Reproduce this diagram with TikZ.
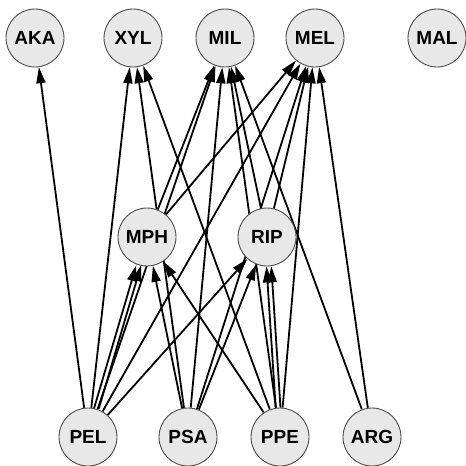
\documentclass[tikz,border=0pt]{standalone}
\usepackage{fontspec}
\setmainfont{Liberation Sans}
\usetikzlibrary{arrows.meta,backgrounds}
\begin{document}
\begin{tikzpicture}[x=1pt,y=-1pt,
  vnode/.style={circle,draw=black!70,line width=0.9pt,fill=black!9,minimum size=58pt,inner sep=0pt,font=\fontsize{19}{19}\selectfont\bfseries},
  edge/.style={line width=1.8pt,-{Triangle[length=16pt,width=9pt]}}]
\useasboundingbox (0,0) rectangle (466,466);
% top row
\node[vnode] (AKA) at (35,38) {AKA};
\node[vnode] (XYL) at (133,38) {XYL};
\node[vnode] (MIL) at (225,38) {MIL};
\node[vnode] (MEL) at (315,38) {MEL};
\node[vnode] (MAL) at (437,38) {MAL};
% middle row
\node[vnode] (MPH) at (147,237) {MPH};
\node[vnode] (RIP) at (267,237) {RIP};
% bottom row
\node[vnode] (PEL) at (88,437) {PEL};
\node[vnode] (PSA) at (188,437) {PSA};
\node[vnode] (PPE) at (280,437) {PPE};
\node[vnode] (ARG) at (372,437) {ARG};
\begin{scope}[on background layer]
% from PEL
\draw[edge] (PEL) -- (AKA);
\draw[edge] (PEL) -- (XYL);
\draw[edge,transform canvas={xshift=-2.4pt}] (PEL) -- (MPH);
\draw[edge,transform canvas={xshift=2.4pt}] (PEL) -- (MPH);
\draw[edge] (PEL) -- (MIL);
\draw[edge] (PEL) -- (MEL);
\draw[edge] (PEL) -- (RIP);
% from PSA
\draw[edge] (PSA) -- (XYL);
\draw[edge] (PSA) -- (MPH);
\draw[edge] (PSA) -- (MIL);
\draw[edge] (PSA) -- (RIP);
\draw[edge] (PSA) -- (MEL);
% from PPE
\draw[edge] (PPE) -- (XYL);
\draw[edge] (PPE) -- (MPH);
\draw[edge] (PPE) -- (MIL);
\draw[edge,transform canvas={xshift=-2.4pt}] (PPE) -- (RIP);
\draw[edge,transform canvas={xshift=2.4pt}] (PPE) -- (RIP);
\draw[edge] (PPE) -- (MEL);
% from ARG
\draw[edge] (ARG) -- (MIL);
\draw[edge] (ARG) -- (MEL);
% from middle row
\draw[edge] (MPH) -- (MIL);
\draw[edge] (MPH) -- (MEL);
\draw[edge] (RIP) -- (MIL);
\draw[edge] (RIP) -- (MEL);
\end{scope}
\end{tikzpicture}
\end{document}
